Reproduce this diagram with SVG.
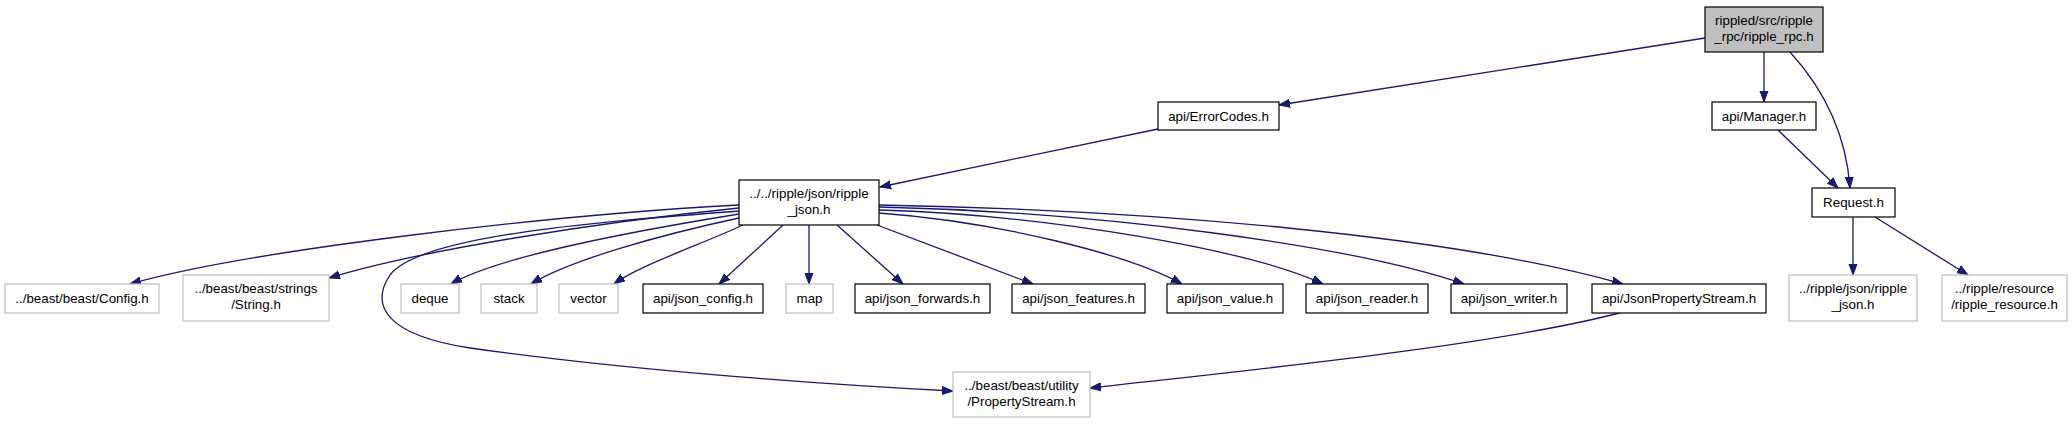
<svg xmlns="http://www.w3.org/2000/svg" width="2072" height="424" viewBox="0 0 2072 424">
<style>
.n rect{fill:#fff;stroke:#000;stroke-width:1.2}
.g rect{fill:#fff;stroke:#bfbfbf;stroke-width:1.2}
.root rect{fill:#bfbfbf;stroke:#000;stroke-width:1.2}
text{font-family:"Liberation Sans",Arial,Helvetica,sans-serif;font-size:13.33px;fill:#000;text-anchor:middle}
.e path{fill:none;stroke:#191970;stroke-width:1.3;marker-end:url(#ah)}
</style>
<defs>
<marker id="ah" markerUnits="userSpaceOnUse" markerWidth="12" markerHeight="10" viewBox="0 0 12 10" refX="11" refY="5" orient="auto">
<path d="M0,1 L11,5 L0,9 Z" fill="#191970" stroke="#191970" stroke-width="1"/>
</marker>
</defs>
<rect width="2072" height="424" fill="#fff"/>
<g id="connectors" class="e">
<path d="M1705,38 L1279,105"/>
<path d="M1764,52 L1764,102"/>
<path d="M1790,52 C1820,85 1846,130 1850,188"/>
<path d="M1778,130 L1838,188"/>
<path d="M1158,129 L880,187"/>
<path d="M1853,217 L1853,275"/>
<path d="M1875,217 L1968,275"/>
<path d="M1623,312 C1500,345 1250,370 1090,388"/>
<path d="M739,211 C600,222 420,235 390,275 C370,305 385,335 470,348 C640,372 850,386 953,391"/>
<path d="M739,205 C550,215 250,250 130,284"/>
<path d="M739,208 C600,222 420,250 329,278"/>
<path d="M739,214 C640,230 500,255 451,284"/>
<path d="M739,218 C660,235 570,260 531,284"/>
<path d="M743,225 C700,245 640,265 614,284"/>
<path d="M783,225 L719,284"/>
<path d="M809,225 L809,284"/>
<path d="M837,225 L903,284"/>
<path d="M877,225 L1033,284"/>
<path d="M879,213 C1000,222 1130,255 1182,284"/>
<path d="M879,210 C1050,215 1250,250 1323,284"/>
<path d="M879,207 C1100,212 1350,245 1464,284"/>
<path d="M879,205 C1150,210 1450,235 1623,284"/>
</g>
<g id="node_root" class="root"><rect x="1705" y="7" width="118" height="45"/><text x="1764" y="25">rippled/src/ripple</text><text x="1764" y="41">_rpc/ripple_rpc.h</text></g>
<g id="node_errorcodes" class="n"><rect x="1158" y="102" width="121" height="28"/><text x="1218.5" y="120.5">api/ErrorCodes.h</text></g>
<g id="node_manager" class="n"><rect x="1712" y="102" width="104" height="28"/><text x="1764" y="120.5">api/Manager.h</text></g>
<g id="node_ripple_json" class="n"><rect x="739" y="180" width="140" height="45"/><text x="809" y="198">../../ripple/json/ripple</text><text x="809" y="214">_json.h</text></g>
<g id="node_request" class="n"><rect x="1812" y="188" width="83" height="29"/><text x="1853.5" y="206.5">Request.h</text></g>
<g id="node_config" class="g"><rect x="5" y="284" width="154" height="29"/><text x="82" y="302.5">../beast/beast/Config.h</text></g>
<g id="node_string" class="g"><rect x="183" y="275" width="146" height="46"/><text x="256" y="293">../beast/beast/strings</text><text x="256" y="309">/String.h</text></g>
<g id="node_deque" class="g"><rect x="401" y="284" width="58" height="29"/><text x="430" y="302.5">deque</text></g>
<g id="node_stack" class="g"><rect x="481" y="284" width="56" height="29"/><text x="509" y="302.5">stack</text></g>
<g id="node_vector" class="g"><rect x="559" y="284" width="59" height="29"/><text x="588.5" y="302.5">vector</text></g>
<g id="node_json_config" class="n"><rect x="643" y="284" width="120" height="29"/><text x="703" y="302.5">api/json_config.h</text></g>
<g id="node_map" class="g"><rect x="786" y="284" width="47" height="29"/><text x="809.5" y="302.5">map</text></g>
<g id="node_json_forwards" class="n"><rect x="855" y="284" width="135" height="29"/><text x="922.5" y="302.5">api/json_forwards.h</text></g>
<g id="node_json_features" class="n"><rect x="1012" y="284" width="133" height="29"/><text x="1078.5" y="302.5">api/json_features.h</text></g>
<g id="node_json_value" class="n"><rect x="1167" y="284" width="116" height="29"/><text x="1225" y="302.5">api/json_value.h</text></g>
<g id="node_json_reader" class="n"><rect x="1306" y="284" width="122" height="29"/><text x="1367" y="302.5">api/json_reader.h</text></g>
<g id="node_json_writer" class="n"><rect x="1451" y="284" width="116" height="29"/><text x="1509" y="302.5">api/json_writer.h</text></g>
<g id="node_jsonpropertystream" class="n"><rect x="1592" y="284" width="174" height="29"/><text x="1679" y="302.5">api/JsonPropertyStream.h</text></g>
<g id="node_ripple_json_r" class="g"><rect x="1789" y="275" width="128" height="46"/><text x="1853" y="293">../ripple/json/ripple</text><text x="1853" y="309">_json.h</text></g>
<g id="node_ripple_resource" class="g"><rect x="1942" y="275" width="125" height="46"/><text x="2004.5" y="293">../ripple/resource</text><text x="2004.5" y="309">/ripple_resource.h</text></g>
<g id="node_propertystream" class="g"><rect x="953" y="372" width="137" height="45"/><text x="1021.5" y="390">../beast/beast/utility</text><text x="1021.5" y="406">/PropertyStream.h</text></g>
</svg>
